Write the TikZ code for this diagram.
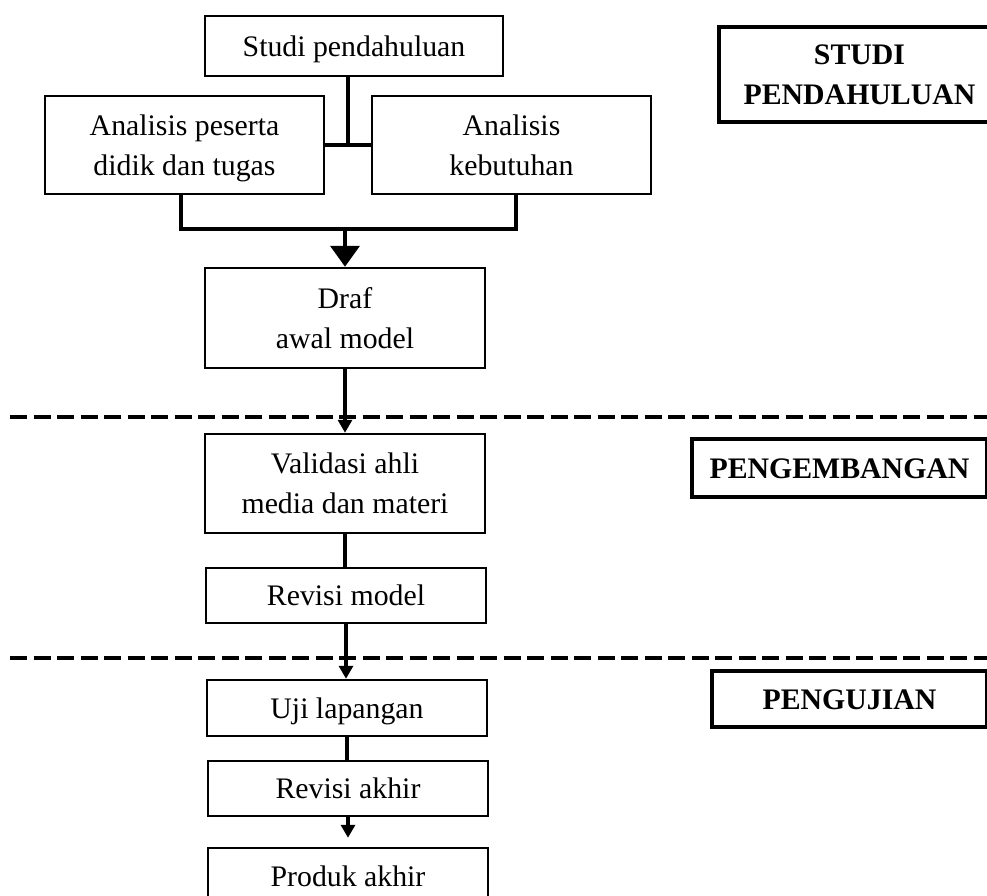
\documentclass[tikz,border=0pt]{standalone}
\usepackage{fontspec}
\setmainfont{Liberation Serif}
\usetikzlibrary{arrows.meta,calc}
\tikzset{
  stepbox/.style={draw, line width=2.5pt, inner sep=0pt, align=center,
    font=\fontsize{29.8}{40}\selectfont},
  headbox/.style={draw, line width=4pt, inner sep=0pt, align=center,
    font=\fontsize{29.8}{40}\selectfont\bfseries},
  oneline/.style={text height=20.4pt, text depth=0pt},
  conn/.style={line width=4pt},
  phaseline/.style={line width=4pt, dash pattern=on 17pt off 6.5pt},
  bigtip/.style={-{Triangle[width=29pt,length=21pt]}},
  smalltip/.style={-{Triangle[width=14pt,length=13pt]}}
}
\begin{document}
\begin{tikzpicture}[x=1pt,y=-1pt]
\useasboundingbox (0,0) rectangle (987,895);
% main flow boxes
\node[stepbox, oneline, minimum width=298pt, minimum height=60pt] (sp) at (354,46) {Studi pendahuluan};
\node[stepbox, minimum width=279pt, minimum height=98pt] (ap) at (184.5,145) {Analisis peserta\\\smash{didik dan tugas}};
\node[stepbox, minimum width=279pt, minimum height=98pt] (ak) at (511.5,145) {Analisis\\\smash{kebutuhan}};
\node[stepbox, minimum width=280pt, minimum height=100pt] (dr) at (345,318) {Draf\\\smash{awal model}};
\node[stepbox, minimum width=280pt, minimum height=99pt] (va) at (345,483.5) {Validasi ahli\\\smash{media dan materi}};
\node[stepbox, oneline, minimum width=280pt, minimum height=55pt] (rm) at (346,595.5) {Revisi model};
\node[stepbox, oneline, minimum width=280pt, minimum height=56pt] (uj) at (347,708) {Uji lapangan};
\node[stepbox, oneline, minimum width=280pt, minimum height=55pt] (ra) at (348,788.5) {Revisi akhir};
\node[stepbox, oneline, minimum width=280pt, minimum height=56pt] (pa) at (348,876) {Produk akhir};
% phase labels
\node[headbox, minimum width=281pt, minimum height=95pt] (h1) at (859.5,74.5) {STUDI\\\smash{PENDAHULUAN}};
\node[headbox, oneline, minimum width=295pt, minimum height=58pt] (h2) at (839.5,468) {PENGEMBANGAN};
\node[headbox, oneline, minimum width=275pt, minimum height=56pt] (h3) at (849.5,699) {PENGUJIAN};
% phase separators
\coordinate (d1l) at (10,417);
\coordinate (d1r) at (987,417);
\coordinate (d2l) at (10,658);
\coordinate (d2r) at (987,658);
\draw[phaseline] (d1l) -- (d1r);
\draw[phaseline] (d2l) -- (d2r);
% top connectors
\coordinate (jm) at ($(ap.east)!0.5!(ak.west)$);
\draw[conn] (ap.east) -- (ak.west);
\draw[conn] (sp.south -| jm) -- (jm);
\coordinate (jl) at (181,229);
\coordinate (jr) at (516,229);
\draw[conn] (ap.south -| jl) -- (jl) -- (jr) -- (ak.south -| jr);
\draw[conn, bigtip] (dr.north |- jl) -- (dr.north);
% lower connectors
\draw[conn, smalltip] (dr.south) -- (va.north);
\draw[conn] (va.south) -- (va.south |- rm.north);
\draw[conn, smalltip] (rm.south) -- (rm.south |- uj.north);
\draw[conn] (uj.south) -- (uj.south |- ra.north);
\draw[conn, smalltip, shorten >=9pt] (ra.south) -- (ra.south |- pa.north);
\end{tikzpicture}
\end{document}
